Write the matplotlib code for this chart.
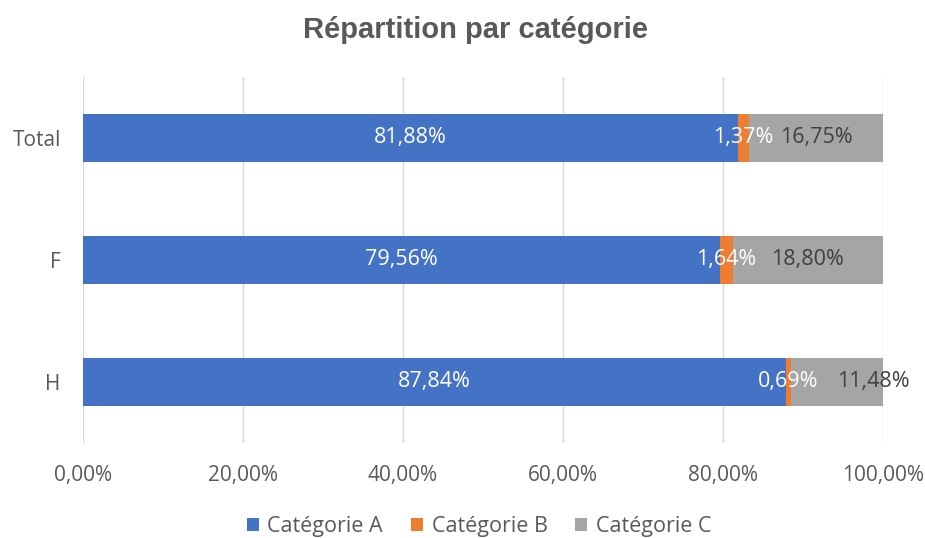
import matplotlib
matplotlib.use("Agg")
import matplotlib.pyplot as plt

plt.rcParams['font.family'] = ['Open Sans', 'DejaVu Sans']

categories = ["H", "F", "Total"]
cat_a = [87.84, 79.56, 81.88]
cat_b = [0.69, 1.64, 1.37]
cat_c = [11.48, 18.80, 16.75]
series_names = ["Catégorie A", "Catégorie B", "Catégorie C"]
colors = ["#4472C4", "#ED7D31", "#A5A5A5"]
label_colors = ["white", "white", "#404040"]

def fr(v):
    return ("%.2f%%" % v).replace(".", ",")

fig = plt.figure(figsize=(9.25, 5.38), dpi=100)
ax = fig.add_axes([0.0897, 0.1766, 0.865, 0.6804])

y = range(len(categories))
left = [0.0] * len(categories)
for vals, name, col, lcol in zip([cat_a, cat_b, cat_c], series_names, colors, label_colors):
    bars = ax.barh(y, vals, left=left, height=0.4, color=col, label=name, zorder=2)
    for i, (b, v) in enumerate(zip(bars, vals)):
        cx = b.get_x() + b.get_width() / 2
        dx = 0
        # Excel nudges the last small label off the bar for H
        if name == "Catégorie C" and categories[i] == "H":
            dx = 26
        ax.annotate(fr(v), (cx, b.get_y() + b.get_height() / 2), xytext=(dx, 0),
                    textcoords="offset points", ha="center", va="center",
                    color=lcol, fontsize=15.5, zorder=3)
    left = [l + v for l, v in zip(left, vals)]

ax.set_xlim(0, 100)
ax.set_ylim(-0.5, 2.5)
ax.set_xticks(range(0, 101, 20))
ax.set_xticklabels([fr(t) for t in range(0, 101, 20)])
ax.set_yticks(list(y))
ax.set_yticklabels(categories)
ax.tick_params(length=0, labelsize=15, labelcolor="#595959", pad=16)
ax.tick_params(axis="y", pad=16)
ax.grid(axis="x", color="#D9D9D9", linewidth=1, zorder=0)
for s in ax.spines.values():
    s.set_visible(False)

fig.text(0.514, 0.944, "Répartition par catégorie", ha="center", va="center",
         fontsize=21, fontweight="bold", color="#595959", family="Liberation Sans")

fig.legend(loc="lower center", ncol=3, frameon=False, fontsize=15.5,
           labelcolor="#595959", handlelength=0.55, handleheight=0.55,
           handletextpad=0.4, columnspacing=1.3, bbox_to_anchor=(0.518, -0.035))

fig.savefig("out.png", dpi=100)
